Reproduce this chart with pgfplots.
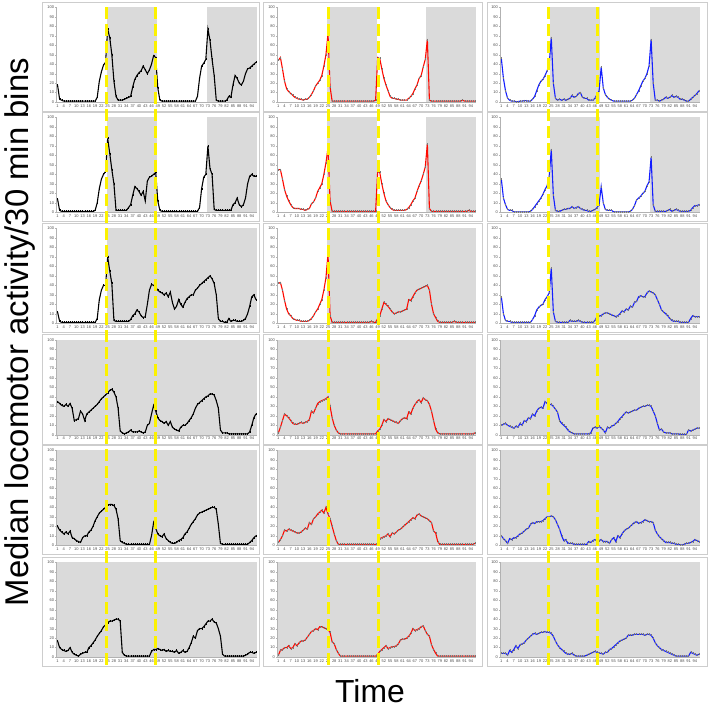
\documentclass[border=0pt]{standalone}
\usepackage{pgfplots}
\pgfplotsset{compat=1.18}
\usepackage{pgfplotstable}
\usepackage{fontspec}
\setmainfont{Liberation Sans}
\definecolor{bg}{RGB}{218,218,218}
\definecolor{fr}{RGB}{205,205,205}
\definecolor{yel}{RGB}{252,242,0}
\definecolor{myred}{RGB}{255,10,0}
\definecolor{myblue}{RGB}{20,30,255}
\definecolor{ebar}{RGB}{120,120,120}

% ---------- data: median activity per 30-min bin (bins 1..96) ----------
% row 1
\pgfplotstableread[row sep=\\]{y\\
18\\3\\2\\1\\1\\1\\1\\1\\1\\1\\
1\\1\\1\\1\\1\\1\\1\\1\\1\\5\\
22\\32\\39\\42\\77\\68\\50\\22\\6\\2\\
2\\2\\3\\4\\5\\6\\16\\24\\28\\31\\
33\\38\\34\\30\\34\\40\\49\\47\\15\\2\\
1\\1\\1\\1\\1\\1\\1\\1\\1\\1\\
1\\1\\1\\1\\1\\1\\1\\6\\25\\38\\
41\\45\\77\\65\\45\\28\\2\\1\\1\\1\\
1\\2\\6\\5\\18\\28\\25\\20\\18\\22\\
30\\35\\36\\38\\40\\42\\}\dAA
\pgfplotstableread[row sep=\\]{y\\
44\\47\\35\\22\\14\\11\\9\\7\\5\\4\\
3\\3\\2\\3\\3\\5\\8\\12\\17\\20\\
23\\28\\38\\50\\72\\16\\1\\1\\1\\1\\
1\\1\\1\\1\\1\\1\\1\\1\\1\\1\\
1\\1\\1\\1\\1\\1\\1\\2\\47\\46\\
35\\25\\18\\12\\6\\4\\4\\3\\3\\2\\
2\\2\\2\\4\\6\\9\\14\\18\\25\\28\\
37\\45\\66\\2\\1\\1\\1\\1\\1\\1\\
1\\1\\1\\1\\1\\1\\1\\1\\1\\2\\
1\\1\\1\\1\\1\\1\\}\dAB
\pgfplotstableread[row sep=\\]{y\\
46\\25\\12\\4\\2\\1\\1\\0.5\\0.5\\1\\
1\\1.5\\1.5\\1\\1\\3\\6\\12\\18\\22\\
24\\28\\33\\40\\68\\20\\4\\2\\3\\2\\
3\\2\\3\\4\\7\\5\\6\\9\\10\\5\\
4\\4\\2\\2\\2\\4\\8\\12\\37\\15\\
8\\5\\3\\2\\1\\1\\1\\1\\1\\1\\
1\\1\\1\\2\\4\\8\\12\\17\\22\\25\\
30\\38\\66\\20\\2\\2\\1\\2\\3\\5\\
4\\5\\7\\5\\6\\5\\3\\3\\2\\1\\
1\\3\\5\\7\\9\\12\\}\dAC
% row 2
\pgfplotstableread[row sep=\\]{y\\
14\\2\\1\\1\\1\\1\\1\\1\\1\\1\\
1\\1\\1\\1\\1\\1\\1\\1\\2\\10\\
25\\35\\40\\43\\78\\62\\45\\30\\2\\2\\
2\\2\\2\\2\\5\\8\\18\\27\\25\\22\\
18\\22\\12\\33\\37\\38\\40\\42\\12\\2\\
1\\1\\1\\1\\1\\1\\1\\1\\1\\1\\
1\\1\\1\\1\\1\\1\\1\\1\\5\\25\\
37\\40\\70\\46\\40\\3\\2\\2\\2\\2\\
2\\2\\2\\2\\8\\10\\15\\8\\6\\8\\
15\\30\\38\\40\\38\\38\\}\dBA
\pgfplotstableread[row sep=\\]{y\\
45\\45\\35\\24\\17\\12\\8\\5\\4\\4\\
4\\3\\3\\2\\3\\4\\9\\11\\15\\22\\
26\\30\\40\\52\\68\\12\\1\\1\\1\\1\\
1\\1\\1\\1\\1\\1\\1\\1\\1\\1\\
1\\1\\1\\1\\1\\1\\1\\1\\43\\42\\
30\\20\\12\\8\\5\\3\\2\\2\\2\\2\\
2\\2\\3\\5\\8\\12\\15\\22\\28\\33\\
40\\48\\72\\4\\1\\1\\1\\1\\1\\1\\
1\\1\\1\\1\\1\\1\\1\\1\\1\\1\\
1\\1\\2\\1\\1\\1\\}\dBB
\pgfplotstableread[row sep=\\]{y\\
35\\15\\8\\3\\2\\2\\0.5\\0.5\\0.5\\0.5\\
0.5\\0.5\\0.5\\0.5\\1\\3\\6\\9\\12\\15\\
19\\24\\28\\38\\66\\18\\2\\1\\1\\2\\
3\\3\\4\\4\\6\\4\\5\\6\\4\\3\\
2\\2\\1\\1\\2\\3\\5\\8\\27\\10\\
3\\2\\2\\2\\0.5\\0.5\\0.5\\0.5\\0.5\\0.5\\
0.5\\0.5\\1\\3\\7\\13\\15\\17\\20\\22\\
28\\32\\58\\8\\1\\1\\1\\1\\1\\1\\
2\\3\\1\\2\\3\\2\\1\\1\\1\\1\\
1\\2\\5\\7\\7\\8\\}\dBC
% row 3
\pgfplotstableread[row sep=\\]{y\\
12\\2\\1\\1\\1\\1\\1\\1\\1\\1\\
1\\1\\1\\1\\1\\1\\1\\1\\1\\5\\
25\\35\\40\\40\\70\\55\\42\\3\\2\\2\\
2\\2\\2\\2\\2\\4\\8\\10\\14\\12\\
8\\6\\7\\20\\35\\41\\40\\38\\35\\33\\
32\\30\\32\\28\\33\\22\\15\\18\\25\\20\\
17\\22\\26\\28\\30\\30\\35\\37\\40\\42\\
44\\46\\48\\50\\47\\42\\30\\5\\2\\2\\
1\\1\\5\\2\\3\\3\\2\\2\\2\\3\\
5\\10\\18\\28\\30\\25\\}\dCA
\pgfplotstableread[row sep=\\]{y\\
42\\43\\35\\24\\15\\10\\8\\5\\4\\3\\
3\\2\\2\\2\\2\\3\\5\\8\\12\\15\\
20\\25\\35\\48\\73\\8\\1\\1\\1\\1\\
1\\1\\1\\1\\1\\1\\1\\1\\1\\1\\
1\\1\\1\\1\\1\\2\\1\\1\\5\\8\\
15\\22\\20\\18\\15\\12\\10\\11\\12\\12\\
13\\14\\15\\25\\24\\28\\32\\35\\36\\37\\
38\\39\\40\\35\\20\\10\\6\\2\\1\\1\\
1\\1\\1\\1\\1\\2\\1\\1\\1\\1\\
1\\1\\1\\1\\1\\1\\}\dCB
\pgfplotstableread[row sep=\\]{y\\
28\\10\\3\\2\\2\\1\\1\\1\\1\\1\\
1\\1\\1\\1\\1\\4\\8\\14\\17\\19\\
20\\25\\28\\32\\58\\12\\2\\1\\1\\1\\
1\\1\\1\\3\\2\\2\\2\\3\\2\\1\\
1\\1\\1\\1\\1\\3\\7\\8\\8\\10\\
11\\11\\10\\9\\8\\7\\8\\10\\13\\12\\
15\\14\\18\\17\\22\\23\\28\\29\\28\\28\\
32\\34\\33\\32\\30\\25\\20\\14\\12\\10\\
8\\5\\3\\2\\2\\2\\1\\1\\1\\1\\
1\\5\\8\\7\\7\\7\\}\dCC
% row 4
\pgfplotstableread[row sep=\\]{y\\
35\\33\\31\\30\\32\\30\\33\\28\\15\\16\\
17\\25\\22\\15\\22\\24\\26\\28\\30\\32\\
35\\38\\40\\42\\44\\47\\48\\45\\40\\28\\
4\\2\\1\\2\\3\\5\\3\\3\\3\\4\\
3\\2\\3\\10\\12\\22\\31\\25\\18\\15\\
14\\12\\14\\10\\14\\8\\6\\5\\4\\8\\
10\\10\\12\\15\\18\\22\\28\\32\\34\\36\\
38\\40\\41\\43\\43\\42\\36\\28\\5\\2\\
2\\2\\1\\1\\1\\1\\1\\1\\1\\1\\
1\\1\\3\\10\\18\\22\\}\dDA
\pgfplotstableread[row sep=\\]{y\\
2\\8\\15\\22\\20\\18\\15\\12\\11\\11\\
12\\13\\12\\13\\14\\16\\25\\23\\28\\33\\
35\\36\\37\\38\\40\\30\\18\\10\\5\\2\\
1\\1\\1\\1\\1\\1\\1\\1\\1\\1\\
1\\1\\1\\1\\1\\1\\1\\1\\4\\6\\
10\\16\\14\\17\\16\\15\\14\\13\\12\\15\\
17\\18\\17\\24\\22\\28\\32\\35\\37\\34\\
39\\37\\36\\32\\25\\15\\6\\2\\1\\1\\
1\\1\\1\\1\\1\\1\\1\\1\\1\\1\\
1\\1\\1\\1\\1\\2\\}\dDB
\pgfplotstableread[row sep=\\]{y\\
10\\11\\12\\10\\9\\8\\7\\9\\8\\12\\
10\\15\\14\\18\\17\\22\\20\\25\\28\\29\\
28\\35\\33\\32\\32\\30\\27\\24\\15\\12\\
10\\8\\5\\3\\2\\1\\1\\1\\1\\1\\
1\\1\\1\\2\\7\\8\\7\\9\\7\\5\\
2\\8\\7\\9\\10\\12\\14\\17\\19\\22\\
24\\23\\24\\25\\26\\26\\28\\29\\30\\30\\
31\\31\\30\\25\\20\\12\\5\\6\\3\\2\\
2\\2\\1\\1\\1\\1\\0.5\\0.5\\0.5\\0.5\\
5\\4\\5\\6\\7\\7\\}\dDC
% row 5
\pgfplotstableread[row sep=\\]{y\\
20\\16\\14\\12\\14\\12\\15\\8\\7\\5\\
4\\3\\8\\10\\10\\14\\16\\20\\26\\30\\
34\\36\\38\\40\\42\\43\\43\\42\\38\\28\\
5\\3\\2\\1\\1\\1\\1\\1\\1\\1\\
1\\1\\1\\1\\1\\10\\24\\18\\12\\10\\
9\\12\\7\\5\\3\\2\\2\\3\\5\\6\\
8\\12\\14\\18\\22\\25\\28\\32\\34\\35\\
36\\37\\38\\39\\40\\40\\38\\22\\2\\1\\
1\\1\\1\\1\\1\\1\\1\\1\\1\\1\\
1\\1\\3\\5\\8\\10\\}\dEA
\pgfplotstableread[row sep=\\]{y\\
3\\6\\10\\16\\15\\17\\16\\15\\14\\13\\
13\\14\\16\\18\\17\\24\\22\\28\\30\\33\\
35\\37\\34\\40\\33\\28\\20\\12\\5\\1\\
1\\1\\1\\1\\1\\1\\1\\1\\1\\1\\
1\\1\\1\\1\\1\\1\\1\\1\\2\\7\\
8\\9\\10\\12\\9\\13\\12\\14\\16\\17\\
19\\21\\23\\25\\27\\29\\28\\32\\33\\31\\
30\\29\\28\\26\\24\\15\\13\\4\\1\\1\\
1\\1\\1\\1\\1\\1\\1\\1\\1\\1\\
1\\1\\1\\1\\1\\2\\}\dEB
\pgfplotstableread[row sep=\\]{y\\
10\\7\\5\\2\\7\\6\\8\\8\\10\\12\\
13\\15\\17\\18\\22\\24\\23\\25\\25\\25\\
26\\28\\30\\30\\31\\30\\27\\22\\17\\10\\
5\\6\\2\\2\\2\\1\\1\\1\\1\\1\\
1\\1\\4\\3\\5\\6\\6\\5\\6\\4\\
4\\4\\2\\6\\8\\4\\10\\8\\12\\15\\
17\\18\\20\\22\\24\\25\\23\\24\\25\\27\\
26\\25\\25\\24\\16\\12\\9\\7\\5\\3\\
3\\3\\2\\2\\1\\1\\0.5\\0.5\\1\\2\\
2\\3\\4\\6\\5\\4\\}\dEC
% row 6
\pgfplotstableread[row sep=\\]{y\\
17\\10\\8\\7\\6\\7\\10\\5\\3\\2\\
1\\3\\4\\5\\5\\10\\12\\15\\18\\22\\
25\\28\\32\\34\\36\\38\\38\\39\\40\\40\\
38\\5\\2\\1\\1\\1\\1\\1\\1\\1\\
1\\1\\1\\1\\1\\6\\8\\8\\9\\8\\
7\\8\\6\\7\\6\\6\\5\\7\\4\\5\\
7\\5\\6\\10\\15\\22\\20\\28\\30\\30\\
32\\35\\38\\38\\40\\37\\36\\30\\22\\3\\
1\\1\\1\\1\\1\\1\\1\\1\\1\\1\\
2\\3\\5\\5\\4\\5\\}\dFA
\pgfplotstableread[row sep=\\]{y\\
2\\7\\8\\10\\10\\12\\9\\10\\14\\12\\
15\\17\\17\\18\\21\\24\\27\\28\\30\\29\\
32\\32\\31\\30\\29\\26\\16\\14\\8\\4\\
1\\1\\1\\1\\1\\1\\1\\1\\1\\1\\
1\\1\\1\\1\\1\\1\\1\\1\\3\\6\\
8\\10\\12\\9\\10\\11\\11\\12\\14\\18\\
19\\19\\20\\22\\25\\30\\28\\29\\30\\32\\
33\\28\\24\\22\\13\\8\\4\\1\\1\\1\\
1\\1\\1\\1\\1\\1\\1\\1\\1\\1\\
1\\1\\1\\1\\1\\1\\}\dFB
\pgfplotstableread[row sep=\\]{y\\
4\\4\\4\\2\\7\\5\\8\\12\\9\\13\\
14\\15\\18\\20\\22\\24\\25\\24\\25\\26\\
26\\27\\26\\26\\25\\22\\17\\13\\10\\8\\
6\\4\\3\\3\\4\\2\\1\\1\\1\\1\\
1\\2\\3\\4\\5\\6\\5\\4\\4\\3\\
5\\5\\8\\9\\11\\13\\15\\17\\18\\19\\
20\\23\\23\\23\\24\\24\\24\\24\\24\\23\\
24\\24\\23\\20\\15\\12\\10\\8\\7\\6\\
5\\4\\3\\2\\1\\1\\1\\1\\1\\1\\
1\\5\\4\\3\\2\\3\\}\dFC

\pgfplotsset{
  panel/.style={
    scale only axis, height=94.8bp, anchor=south west,
    xmin=0.5, xmax=96.5, ymin=0, ymax=100,
    axis lines*=left, axis on top, clip=false,
    xtick={1,4,...,94}, ytick={0,10,...,100},
    tick align=outside, major tick length=1.2pt,
    tick style={gray!60, line width=0.3pt},
    axis line style={gray!60, line width=0.4pt},
    tick label style={font=\fontsize{4}{4.5}\selectfont, text=black!70, inner sep=1pt},
    /pgf/number format/assume math mode=true,
  },
  % marks (error-bar look) drawn first, line drawn over them
  mk/.style={only marks, mark=|, mark size=1.0pt,
    mark options={#1, line width=0.22pt}},
  ln/.style={#1, line width=1.1pt, mark=none},
}
\newcommand\shLD{\fill[bg] (axis cs:24.5,0) rectangle (axis cs:48.5,100);
  \fill[bg] (axis cs:72.5,0) rectangle (axis cs:96.5,100);}
\newcommand\shLDD{\fill[bg] (axis cs:24.5,0) rectangle (axis cs:96.5,100);}
\newcommand\shDD{\fill[bg] (axis cs:0.5,0) rectangle (axis cs:96.5,100);}
% #1 x, #2 y, #3 width, #4 shading, #5 line colour, #6 mark colour, #7 table
\newcommand\panel[7]{%
  \begin{axis}[panel, at={(#1bp,#2bp)}, width=#3bp]
    #4
    \addplot[mk=#6] table[x expr=\coordindex+1, y=y] {#7};
    \addplot[ln=#5] table[x expr=\coordindex+1, y=y] {#7};
  \end{axis}}

\begin{document}
\begin{tikzpicture}
\useasboundingbox (0bp,0bp) rectangle (709bp,714bp);
% panel frames
\foreach \l/\r in {42/259,263/482,487/707}{
  \foreach \t in {7.3,117.5,228.5,340,450.5,562.3}{
    \pgfmathsetmacro\yt{714-\t+5.5}
    \pgfmathsetmacro\yb{714-\t-94.8-9}
    \draw[fr, line width=0.5pt] (\l bp,\yt bp) rectangle (\r bp,\yb bp);
  }
}
% column 1
\panel{56.5}{611.9}{200.5}{\shLD}{black}{black}{\dAA}
\panel{56.5}{501.7}{200.5}{\shLD}{black}{black}{\dBA}
\panel{56.5}{390.7}{200.5}{\shLDD}{black}{black}{\dCA}
\panel{56.5}{279.2}{200.5}{\shDD}{black}{black}{\dDA}
\panel{56.5}{168.7}{200.5}{\shDD}{black}{black}{\dEA}
\panel{56.5}{56.9}{200.5}{\shDD}{black}{black}{\dFA}
% column 2
\panel{277.3}{611.9}{198.7}{\shLD}{myred}{ebar}{\dAB}
\panel{277.3}{501.7}{198.7}{\shLD}{myred}{ebar}{\dBB}
\panel{277.3}{390.7}{198.7}{\shLDD}{myred}{ebar}{\dCB}
\panel{277.3}{279.2}{198.7}{\shDD}{myred}{ebar}{\dDB}
\panel{277.3}{168.7}{198.7}{\shDD}{myred}{ebar}{\dEB}
\panel{277.3}{56.9}{198.7}{\shDD}{myred}{ebar}{\dFB}
% column 3
\panel{500.3}{611.9}{199.7}{\shLD}{myblue}{ebar}{\dAC}
\panel{500.3}{501.7}{199.7}{\shLD}{myblue}{ebar}{\dBC}
\panel{500.3}{390.7}{199.7}{\shLDD}{myblue}{ebar}{\dCC}
\panel{500.3}{279.2}{199.7}{\shDD}{myblue}{ebar}{\dDC}
\panel{500.3}{168.7}{199.7}{\shDD}{myblue}{ebar}{\dEC}
\panel{500.3}{56.9}{199.7}{\shDD}{myblue}{ebar}{\dFC}
% yellow dashed transition lines
\foreach \x in {106.2,155.3,328.3,378.3,548,597.3}{
  \draw[yel, line width=3bp, dash pattern=on 12bp off 5bp] (\x bp,706.7bp) -- (\x bp,47bp);
}
% axis titles
\node[rotate=90, anchor=base, inner sep=0pt, font=\fontsize{33}{36}\selectfont] at (28bp,382bp) {Median locomotor activity/30 min bins};
\node[anchor=base, inner sep=0pt, font=\fontsize{32}{36}\selectfont] at (370bp,12bp) {Time};
\end{tikzpicture}
\end{document}
